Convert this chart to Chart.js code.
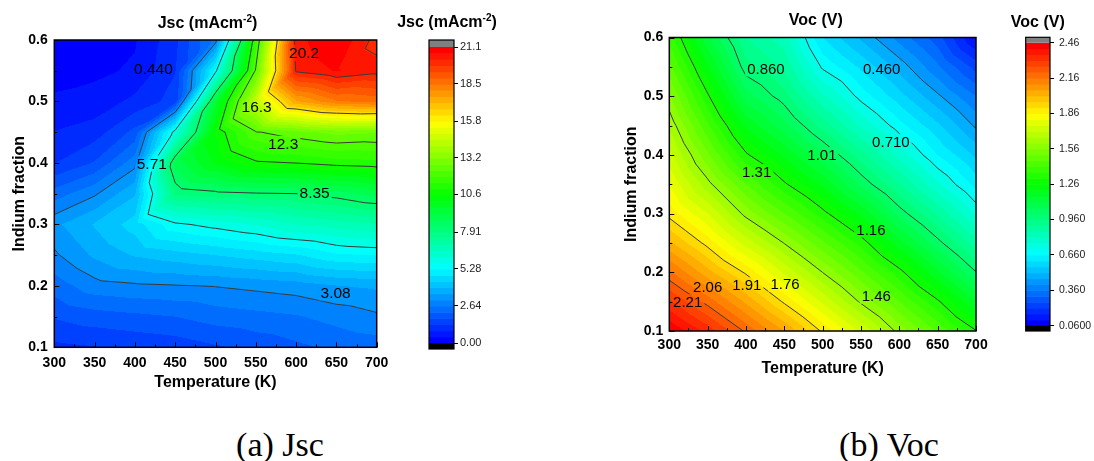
<!DOCTYPE html>
<html><head><meta charset="utf-8">
<script src="https://cdn.jsdelivr.net/npm/chart.js@4.4.1/dist/chart.umd.min.js"></script>
<style>
html,body{margin:0;padding:0;background:#fff;width:1094px;height:461px;overflow:hidden;position:relative}
canvas{position:absolute;top:0}
.cap{position:absolute;font-family:"Liberation Serif","Times New Roman",serif;font-size:34px;line-height:34px;color:#000;white-space:nowrap;transform:translateX(-50%)}
</style></head><body>
<canvas id="cA" width="400" height="400" style="left:0px"></canvas>
<canvas id="cC" width="120" height="400" style="left:380px"></canvas>
<canvas id="cB" width="400" height="400" style="left:600px"></canvas>
<canvas id="cD" width="114" height="400" style="left:980px"></canvas>
<div class="cap" style="left:280px;top:428px">(a) Jsc</div>
<div class="cap" style="left:889px;top:428px">(b) Voc</div>
<script>
// ---------------- data ----------------
const temperatureK = [300, 350, 400, 450, 500, 550, 600, 650, 700];
const indiumFraction = [0.10, 0.15, 0.20, 0.25, 0.30, 0.35, 0.40, 0.45, 0.50, 0.55, 0.60];

// Jsc (mA/cm2), one array per temperature, indium fraction 0.10 -> 0.60
const jscT300 = [1.2, 1.8, 2.4, 3.0, 3.4, 2.4, 1.3, 0.9, 0.5, 0.3, 0.2];
const jscT350 = [1.3, 2.0, 2.9, 3.6, 4.0, 3.0, 1.8, 1.1, 0.6, 0.35, 0.25];
const jscT400 = [1.4, 2.1, 3.0, 4.0, 4.6, 3.9, 2.9, 1.9, 1.0, 0.5, 0.4];
const jscT450 = [1.5, 2.2, 3.05, 4.2, 5.6, 8.0, 9.0, 6.0, 1.5, 1.3, 1.2];
const jscT500 = [1.7, 2.4, 3.1, 4.4, 5.9, 8.2, 10.2, 10.6, 9.5, 5.5, 2.8];
const jscT550 = [1.9, 2.5, 3.2, 4.6, 6.2, 8.3, 10.9, 12.25, 14.5, 12.4, 11.5];
const jscT600 = [2.1, 2.6, 3.3, 4.8, 6.6, 8.35, 11.0, 12.6, 17.5, 20.3, 20.5];
const jscT650 = [2.3, 2.8, 3.5, 5.2, 6.8, 8.6, 11.2, 12.9, 18.4, 20.7, 21.1];
const jscT700 = [2.4, 3.0, 3.6, 5.3, 7.0, 9.0, 11.3, 12.8, 18.6, 20.4, 20.0];

// Voc (V), one array per temperature, indium fraction 0.10 -> 0.60
const vocT300 = [2.46, 2.32, 2.17, 2.02, 1.89, 1.81, 1.73, 1.65, 1.57, 1.48, 1.39];
const vocT350 = [2.34, 2.19, 2.03, 1.89, 1.76, 1.63, 1.52, 1.42, 1.32, 1.22, 1.12];
const vocT400 = [2.20, 2.05, 1.90, 1.74, 1.59, 1.46, 1.32, 1.20, 1.08, 0.98, 0.91];
const vocT450 = [2.06, 1.90, 1.75, 1.607, 1.46, 1.32, 1.20, 1.08, 0.98, 0.90, 0.83];
const vocT500 = [1.90, 1.75, 1.609, 1.47, 1.33, 1.20, 1.07, 0.94, 0.82, 0.70, 0.61];
const vocT550 = [1.75, 1.60, 1.47, 1.34, 1.20, 1.05, 0.93, 0.80, 0.69, 0.60, 0.50];
const vocT600 = [1.59, 1.46, 1.33, 1.18, 1.04, 0.91, 0.79, 0.68, 0.58, 0.49, 0.39];
const vocT650 = [1.45, 1.32, 1.17, 1.03, 0.90, 0.77, 0.66, 0.57, 0.47, 0.37, 0.28];
const vocT700 = [1.313, 1.16, 1.012, 0.88, 0.75, 0.64, 0.55, 0.45, 0.36, 0.24, 0.10];

// contour levels drawn as lines
const jscLineLevels = [3.08, 5.71, 8.35, 10.99, 12.3, 16.3, 20.2];
const vocLineLevels = [0.46, 0.71, 1.01, 1.31, 1.61, 1.91, 2.21];

// contour labels (text, temperature, indium fraction)
const jscLabelText = ['0.440', '20.2', '16.3', '12.3', '8.35', '5.71', '3.08'];
const jscLabelT    = [423, 610, 551, 584, 623, 421, 649];
const jscLabelF    = [0.553, 0.579, 0.492, 0.431, 0.352, 0.399, 0.189];
const vocLabelText = ['0.460', '0.710', '0.860', '1.01', '1.16', '1.31', '1.46', '1.76', '1.91', '2.06', '2.21'];
const vocLabelT    = [577, 589, 426, 499, 563, 414, 570, 451, 401, 350, 324];
const vocLabelF    = [0.546, 0.422, 0.547, 0.400, 0.273, 0.371, 0.160, 0.180, 0.178, 0.175, 0.149];

// axis ticks
const xTicks = [300, 350, 400, 450, 500, 550, 600, 650, 700];
const xTickLabels = ['300', '350', '400', '450', '500', '550', '600', '650', '700'];
const yTicks = [0.1, 0.2, 0.3, 0.4, 0.5, 0.6];
const yTickLabels = ['0.1', '0.2', '0.3', '0.4', '0.5', '0.6'];

// colour scales
const jscScaleMin = 0, jscScaleMax = 21.1, jscBands = 48;
const jscBarTicks = [0, 2.64, 5.28, 7.91, 10.6, 13.2, 15.8, 18.5, 21.1];
const jscBarTickLabels = ['0.00', '2.64', '5.28', '7.91', '10.6', '13.2', '15.8', '18.5', '21.1'];
const vocScaleMin = 0.06, vocScaleMax = 2.46, vocBands = 48;
const vocBarTicks = [0.06, 0.36, 0.66, 0.96, 1.26, 1.56, 1.86, 2.16, 2.46];
const vocBarTickLabels = ['0.0600', '0.360', '0.660', '0.960', '1.26', '1.56', '1.86', '2.16', '2.46'];

const jscCols = [jscT300, jscT350, jscT400, jscT450, jscT500, jscT550, jscT600, jscT650, jscT700];
const vocCols = [vocT300, vocT350, vocT400, vocT450, vocT500, vocT550, vocT600, vocT650, vocT700];

// ---------------- helpers ----------------
const FONT = '"Liberation Sans", Arial, sans-serif';

function rainbow(t) {
  t = Math.max(0, Math.min(1, t));
  const s = [[0, 0, 0, 255], [0.25, 0, 255, 255], [0.5, 0, 255, 0], [0.75, 255, 255, 0], [1, 255, 0, 0]];
  for (let i = 1; i < s.length; i++) {
    if (t <= s[i][0]) {
      const a = s[i - 1], b = s[i], u = (t - a[0]) / (b[0] - a[0]);
      return [0, 1, 2].map(k => Math.round(a[k + 1] + u * (b[k + 1] - a[k + 1])));
    }
  }
  return [255, 0, 0];
}
function makePalette(n) { const p = []; for (let k = 0; k < n; k++) p.push(rainbow(k / (n - 1))); return p; }

function locate(arr, v) {
  let i = 0;
  while (i < arr.length - 2 && v > arr[i + 1]) i++;
  let u = (v - arr[i]) / (arr[i + 1] - arr[i]);
  u = Math.max(0, Math.min(1, u));
  return [i, u];
}
function interp(cols, T, f) {
  const [i, u] = locate(temperatureK, T);
  const [j, v] = locate(indiumFraction, f);
  const za = cols[i][j], zb = cols[i + 1][j], zc = cols[i + 1][j + 1], zd = cols[i][j + 1];
  if (u >= v) return za + u * (zb - za) + v * (zc - zb);
  return za + v * (zd - za) + u * (zc - zd);
}
function contourSegments(cols, level) {
  const segs = [];
  for (let i = 0; i < temperatureK.length - 1; i++) {
    for (let j = 0; j < indiumFraction.length - 1; j++) {
      const P = (a, b) => ({ T: temperatureK[a], f: indiumFraction[b], z: cols[a][b] === level ? cols[a][b] + 1e-9 : cols[a][b] });
      const A = P(i, j), B = P(i + 1, j), C = P(i + 1, j + 1), D = P(i, j + 1);
      for (const tri of [[A, B, C], [A, C, D]]) {
        const pts = [];
        for (let e = 0; e < 3; e++) {
          const p = tri[e], q = tri[(e + 1) % 3];
          if ((p.z - level) * (q.z - level) < 0) {
            const t = (level - p.z) / (q.z - p.z);
            pts.push({ T: p.T + t * (q.T - p.T), f: p.f + t * (q.f - p.f) });
          }
        }
        if (pts.length === 2) segs.push(pts);
      }
    }
  }
  return segs;
}

function contourPlugin(cfg) {
  const palette = makePalette(cfg.bands);
  const step = (cfg.max - cfg.min) / cfg.bands;
  return {
    id: 'contourFill',
    beforeDatasetsDraw(chart) {
      const { ctx, chartArea: ca, scales: { x, y } } = chart;
      const L = Math.round(ca.left), T0 = Math.round(ca.top);
      const w = Math.round(ca.right) - L, h = Math.round(ca.bottom) - T0;
      const img = ctx.createImageData(w, h);
      for (let py = 0; py < h; py++) {
        const f = y.getValueForPixel(T0 + py + 0.5);
        for (let px = 0; px < w; px++) {
          const T = x.getValueForPixel(L + px + 0.5);
          const z = interp(cfg.cols, T, f);
          let k = Math.floor((z - cfg.min) / step);
          k = Math.max(0, Math.min(cfg.bands - 1, k));
          const c = palette[k], o = (py * w + px) * 4;
          img.data[o] = c[0]; img.data[o + 1] = c[1]; img.data[o + 2] = c[2]; img.data[o + 3] = 255;
        }
      }
      ctx.putImageData(img, L, T0);

      // label boxes
      ctx.save();
      ctx.font = cfg.labelFont;
      const boxes = cfg.labelText.map((s, i) => {
        const cx = x.getPixelForValue(cfg.labelT[i]), cy = y.getPixelForValue(cfg.labelF[i]);
        const wd = ctx.measureText(s).width;
        return { s, cx, cy, wd };
      });
      // contour lines (broken under labels)
      ctx.beginPath();
      ctx.rect(ca.left, ca.top, ca.width, ca.height);
      boxes.forEach(b => ctx.rect(b.cx - b.wd / 2 - 2, b.cy - 8, b.wd + 4, 16));
      ctx.clip('evenodd');
      ctx.strokeStyle = '#3a3a3a';
      ctx.lineWidth = 1;
      ctx.beginPath();
      cfg.lineLevels.forEach(lv => {
        contourSegments(cfg.cols, lv).forEach(s => {
          ctx.moveTo(x.getPixelForValue(s[0].T), y.getPixelForValue(s[0].f));
          ctx.lineTo(x.getPixelForValue(s[1].T), y.getPixelForValue(s[1].f));
        });
      });
      ctx.stroke();
      ctx.restore();

      ctx.save();
      ctx.font = cfg.labelFont;
      ctx.fillStyle = '#000';
      ctx.textAlign = 'center';
      ctx.textBaseline = 'middle';
      boxes.forEach(b => ctx.fillText(b.s, b.cx, b.cy + 1));

      // inward ticks
      ctx.strokeStyle = '#000';
      ctx.lineWidth = 1;
      ctx.beginPath();
      for (let i = 0; i < xTicks.length; i++) {
        const px = Math.round(x.getPixelForValue(xTicks[i])) + 0.5;
        ctx.moveTo(px, ca.bottom); ctx.lineTo(px, ca.bottom - 5);
        if (i < xTicks.length - 1) {
          const pm = Math.round(x.getPixelForValue((xTicks[i] + xTicks[i + 1]) / 2)) + 0.5;
          ctx.moveTo(pm, ca.bottom); ctx.lineTo(pm, ca.bottom - 3);
        }
      }
      for (let i = 0; i < yTicks.length; i++) {
        const py = Math.round(y.getPixelForValue(yTicks[i])) + 0.5;
        ctx.moveTo(ca.left, py); ctx.lineTo(ca.left + 5, py);
        if (i < yTicks.length - 1) {
          const pm = Math.round(y.getPixelForValue((yTicks[i] + yTicks[i + 1]) / 2)) + 0.5;
          ctx.moveTo(ca.left, pm); ctx.lineTo(ca.left + 3, pm);
        }
      }
      ctx.stroke();
      ctx.lineWidth = 1.5;
      ctx.strokeRect(ca.left, ca.top, ca.width, ca.height);

      // plot title
      drawTitle(ctx, cfg.title, cfg.titleX, cfg.titleY);
      ctx.restore();
    }
  };
}

function drawTitle(ctx, parts, cx, baseY) {
  // parts: [[text, isSuperscript], ...]
  ctx.save();
  ctx.fillStyle = '#000';
  ctx.textBaseline = 'alphabetic';
  ctx.textAlign = 'left';
  let total = 0;
  parts.forEach(p => { ctx.font = p[1] ? 'bold 10px ' + FONT : 'bold 16px ' + FONT; total += ctx.measureText(p[0]).width; });
  let xx = cx - total / 2;
  parts.forEach(p => {
    ctx.font = p[1] ? 'bold 10px ' + FONT : 'bold 16px ' + FONT;
    ctx.fillText(p[0], xx, p[1] ? baseY - 6 : baseY);
    xx += ctx.measureText(p[0]).width;
  });
  ctx.restore();
}

function makePlot(id, cols, o) {
  return new Chart(document.getElementById(id), {
    type: 'scatter',
    data: { datasets: [{ data: [], pointRadius: 0 }] },
    options: {
      responsive: false, animation: false, events: [],
      layout: { padding: { left: 0, top: o.top, right: o.right, bottom: 0 } },
      plugins: { legend: { display: false }, tooltip: { enabled: false } },
      scales: {
        x: {
          type: 'linear', min: 300, max: 700,
          afterBuildTicks: s => { s.ticks = xTicks.map(v => ({ value: v })); },
          afterFit: s => { s.height = o.xH; },
          grid: { display: false, drawTicks: false }, border: { display: false },
          ticks: { autoSkip: false, maxRotation: 0, padding: o.xTickPad, color: '#000',
                   font: { family: FONT, size: 14, weight: 'bold' }, callback: (v, i) => xTickLabels[i] },
          title: { display: true, text: 'Temperature (K)', color: '#000',
                   font: { family: FONT, size: 16, weight: 'bold' }, padding: { top: 0, bottom: o.xTitlePad } }
        },
        y: {
          type: 'linear', position: 'left', min: 0.1, max: 0.6,
          afterBuildTicks: s => { s.ticks = yTicks.map(v => ({ value: v })); },
          afterFit: s => { s.width = o.yW; },
          grid: { display: false, drawTicks: false }, border: { display: false },
          ticks: { autoSkip: false, padding: o.yTickPad, color: '#000',
                   font: { family: FONT, size: 14, weight: 'bold' }, callback: (v, i) => yTickLabels[i] },
          title: { display: true, text: 'Indium fraction', color: '#000',
                   font: { family: FONT, size: 16, weight: 'bold' }, padding: { top: o.yTitlePad, bottom: 0 } }
        }
      }
    },
    plugins: [contourPlugin(Object.assign({ cols }, o.cfg))]
  });
}

function colorbarPlugin(c) {
  const palette = makePalette(c.bands);
  const step = (c.max - c.min) / c.bands;
  return {
    id: 'colorbar',
    beforeDatasetsDraw(chart) {
      const { ctx, chartArea: ca, scales: { y } } = chart;
      ctx.save();
      for (let k = 0; k < c.bands; k++) {
        const y0 = y.getPixelForValue(c.min + k * step), y1 = y.getPixelForValue(c.min + (k + 1) * step);
        const col = palette[k];
        ctx.fillStyle = 'rgb(' + col.join(',') + ')';
        ctx.fillRect(ca.left, y1, ca.width, y0 - y1 + 0.6);
      }
      ctx.fillStyle = '#808080';
      ctx.fillRect(ca.left, ca.top - c.over, ca.width, c.over);
      ctx.fillStyle = '#000';
      ctx.fillRect(ca.left, ca.bottom, ca.width, c.under);
      ctx.strokeStyle = '#000';
      ctx.lineWidth = 1.2;
      ctx.strokeRect(ca.left, ca.top - c.over, ca.width, ca.height + c.over + c.under);
      drawTitle(ctx, c.title, c.titleX, c.titleY);
      ctx.restore();
    }
  };
}

function makeBar(id, c) {
  return new Chart(document.getElementById(id), {
    type: 'scatter',
    data: { datasets: [{ data: [], pointRadius: 0 }] },
    options: {
      responsive: false, animation: false, events: [],
      layout: { padding: { left: c.left, top: c.top, right: 0, bottom: c.bottom } },
      plugins: { legend: { display: false }, tooltip: { enabled: false } },
      scales: {
        x: { display: false, min: 0, max: 1 },
        y: {
          type: 'linear', position: 'right', min: c.min, max: c.max,
          afterBuildTicks: s => { s.ticks = c.ticks.map(v => ({ value: v })); },
          afterFit: s => { s.width = c.axisW; },
          grid: { display: true, drawOnChartArea: false, drawTicks: true, tickLength: 4, color: '#000', tickColor: '#000' },
          border: { display: false },
          ticks: { autoSkip: false, padding: c.pad, color: '#222',
                   font: { family: FONT, size: c.fontSize }, callback: (v, i) => c.labels[i] }
        }
      }
    },
    plugins: [colorbarPlugin(c)]
  });
}

// ---------------- charts ----------------
makePlot('cA', jscCols, {
  top: 40, right: 23.3, xH: 52.7, yW: 54.3, xTickPad: 7, yTickPad: 6.5, xTitlePad: 7.4, yTitlePad: 10.4,
  cfg: { min: jscScaleMin, max: jscScaleMax, bands: jscBands, lineLevels: jscLineLevels,
         labelText: jscLabelText, labelT: jscLabelT, labelF: jscLabelF, labelFont: '15.5px ' + FONT,
         title: [['Jsc (mAcm', false], ['-2', true], [')', false]], titleX: 207.5, titleY: 28.3 }
});
makeBar('cC', {
  left: 49, top: 47, bottom: 57, axisW: 46, pad: 2, fontSize: 11,
  min: jscScaleMin, max: jscScaleMax, bands: jscBands, ticks: jscBarTicks, labels: jscBarTickLabels,
  over: 7, under: 6, title: [['Jsc (mAcm', false], ['-2', true], [')', false]], titleX: 67, titleY: 26.5
});
makePlot('cB', vocCols, {
  top: 37.5, right: 24, xH: 69, yW: 69.3, xTickPad: 5.3, yTickPad: 6, xTitlePad: 21.4, yTitlePad: 22.1,
  cfg: { min: vocScaleMin, max: vocScaleMax, bands: vocBands, lineLevels: vocLineLevels,
         labelText: vocLabelText, labelT: vocLabelT, labelF: vocLabelF, labelFont: '15px ' + FONT,
         title: [['Voc (V)', false]], titleX: 215.8, titleY: 25 }
});
makeBar('cD', {
  left: 45.7, top: 42.7, bottom: 74.3, axisW: 44, pad: 5, fontSize: 10.5,
  min: vocScaleMin, max: vocScaleMax, bands: vocBands, ticks: vocBarTicks, labels: vocBarTickLabels,
  over: 5.4, under: 5.3, title: [['Voc (V)', false]], titleX: 57.8, titleY: 26.7
});
</script>
</body></html>
